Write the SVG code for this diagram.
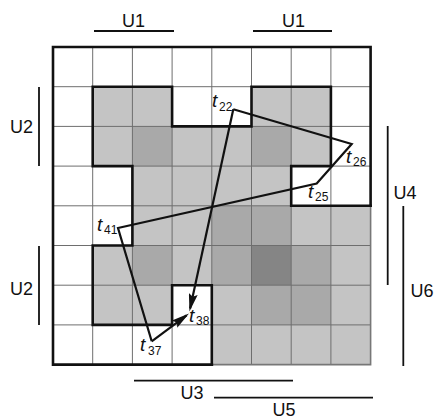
<svg xmlns="http://www.w3.org/2000/svg" width="438" height="419" viewBox="0 0 438 419">
<style>
.L{fill:#c4c4c4}
.M{fill:#a9a9a9}
.D{fill:#858585}
.grid{stroke:#6e6e6e;stroke-width:1;fill:none}
.bound{stroke:#111;stroke-width:2.6;fill:none;stroke-linejoin:miter;stroke-linecap:square}
.thin{stroke:#777;stroke-width:1.6;fill:none}
.poly{stroke:#111;stroke-width:2.2;fill:none;stroke-linejoin:miter}
.dim{stroke:#111;stroke-width:1.8}
.u{font-family:"Liberation Sans",Arial,sans-serif;font-size:18px;fill:#111;text-anchor:middle}
.lbl{font-family:"Liberation Sans",Arial,sans-serif;fill:#111}
.ti{font-size:19px;font-style:italic}
.sub{font-size:12px;font-style:normal}
</style>
<defs>
<marker id="arr" viewBox="0 0 18 9" refX="15" refY="4.5" markerWidth="18" markerHeight="9" markerUnits="userSpaceOnUse" orient="auto">
<path d="M0,0 L18,4.5 L0,9 L3,4.5 z" fill="#111"/>
</marker>
</defs>
<rect width="438" height="419" fill="#fff"/>
<g id="region">
<path class="L" d="M92.7,86.7 H172.1 V126.4 H251.5 V86.7 H330.9 V166.1 H291.2 V205.8 H370.6 V364.6 H211.8 V285.2 H172.1 V324.9 H92.7 V245.5 H132.4 V166.1 H92.7 Z"/>
<rect class="M" x="132.4" y="126.4" width="39.7" height="39.7"/>
<rect class="M" x="251.5" y="126.4" width="39.7" height="39.7"/>
<rect class="M" x="211.8" y="205.8" width="79.4" height="39.7"/>
<rect class="M" x="132.4" y="245.5" width="39.7" height="39.7"/>
<rect class="M" x="211.8" y="245.5" width="39.7" height="39.7"/>
<rect class="D" x="251.5" y="245.5" width="39.7" height="39.7"/>
<rect class="M" x="291.2" y="245.5" width="39.7" height="39.7"/>
<rect class="M" x="251.5" y="285.2" width="79.4" height="39.7"/>
</g>
<g id="grid">
<path class="grid" d="M92.7,47 V364.6 M132.4,47 V364.6 M172.1,47 V364.6 M211.8,47 V364.6 M251.5,47 V364.6 M291.2,47 V364.6 M330.9,47 V364.6 M53,86.7 H370.6 M53,126.4 H370.6 M53,166.1 H370.6 M53,205.8 H370.6 M53,245.5 H370.6 M53,285.2 H370.6 M53,324.9 H370.6"/>
<path class="thin" d="M370.6,205.8 V364.6 H211.8"/>
<path class="bound" d="M370.6,205.8 V47 H53 V364.6 H211.8"/>
<path class="bound" d="M211.8,364.6 V285.2 H172.1 V324.9 H92.7 V245.5 H132.4 V166.1 H92.7 V86.7 H172.1 V126.4 H251.5 V86.7 H330.9 V166.1 H291.2 V205.8 H370.6"/>
</g>
<g id="connectors">
<polyline class="poly" points="233.3,109.3 351.7,144 316.7,183.5 118,228 151.7,341.3"/>
<line class="poly" x1="233.3" y1="109.3" x2="190.1" y2="308.6" marker-end="url(#arr)"/>
<line class="poly" x1="151.7" y1="341.3" x2="186.6" y2="315.3" marker-end="url(#arr)"/>
</g>
<g id="t22"><text class="lbl" x="212" y="107"><tspan class="ti">t</tspan><tspan class="sub" x="219" y="111">22</tspan></text></g>
<g id="t26"><text class="lbl" x="346" y="163"><tspan class="ti">t</tspan><tspan class="sub" x="353" y="166">26</tspan></text></g>
<g id="t25"><text class="lbl" x="308" y="198"><tspan class="ti">t</tspan><tspan class="sub" x="315" y="201">25</tspan></text></g>
<g id="t41"><text class="lbl" x="97" y="231"><tspan class="ti">t</tspan><tspan class="sub" x="104" y="234">41</tspan></text></g>
<g id="t38"><text class="lbl" x="189" y="322"><tspan class="ti">t</tspan><tspan class="sub" x="196" y="325">38</tspan></text></g>
<g id="t37"><text class="lbl" x="140" y="351"><tspan class="ti">t</tspan><tspan class="sub" x="148" y="355">37</tspan></text></g>
<g id="dims">
<line class="dim" x1="94" y1="31" x2="174" y2="31"/>
<line class="dim" x1="253" y1="31" x2="332" y2="31"/>
<line class="dim" x1="39" y1="87" x2="39" y2="166"/>
<line class="dim" x1="39" y1="246" x2="39" y2="325"/>
<line class="dim" x1="387.7" y1="126" x2="387.7" y2="285"/>
<line class="dim" x1="403.3" y1="206" x2="403.3" y2="366"/>
<line class="dim" x1="134" y1="380.7" x2="293" y2="380.7"/>
<line class="dim" x1="214" y1="397.7" x2="373" y2="397.7"/>
<text class="u" x="133.5" y="27">U1</text>
<text class="u" x="293.5" y="27">U1</text>
<text class="u" x="21.5" y="133">U2</text>
<text class="u" x="21.5" y="295">U2</text>
<text class="u" x="405" y="199">U4</text>
<text class="u" x="422" y="297">U6</text>
<text class="u" x="192" y="399">U3</text>
<text class="u" x="284" y="416">U5</text>
</g>
</svg>
